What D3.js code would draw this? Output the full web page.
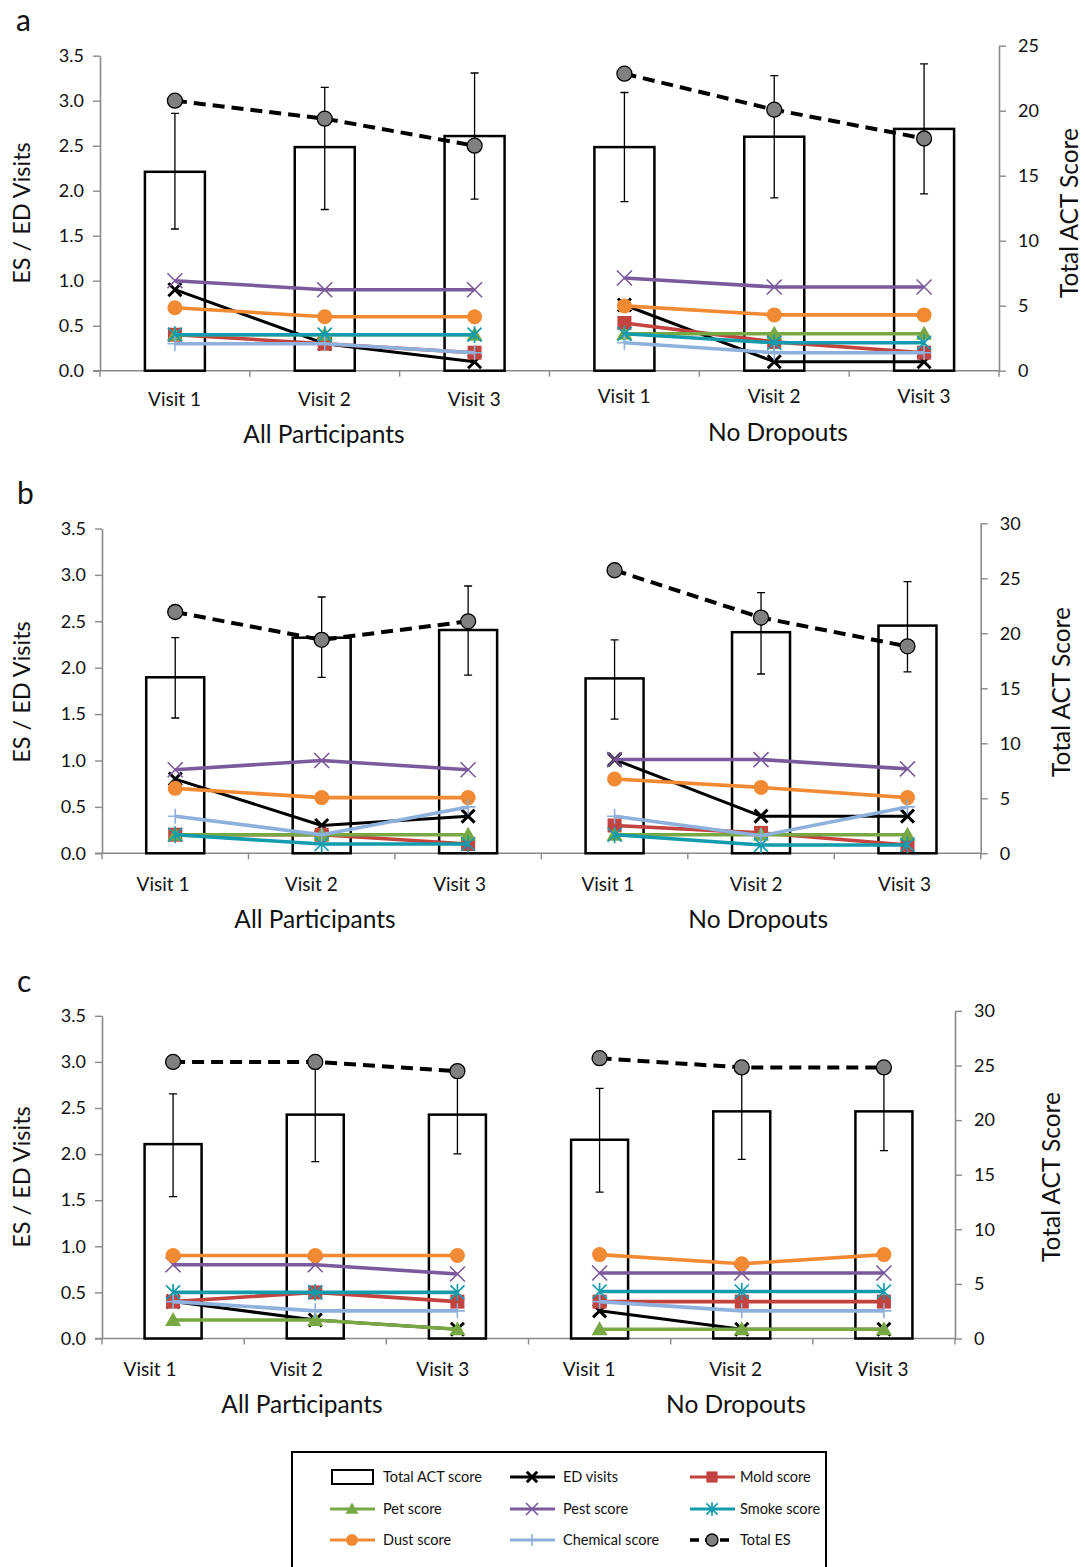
<!DOCTYPE html>
<html><head><meta charset="utf-8">
<script src="https://cdn.jsdelivr.net/npm/d3@7"></script>
<style>
body{margin:0;background:#fff}
svg{display:block;font-family:Lato,'Open Sans',sans-serif}
</style>
</head><body>
<svg id="chart" width="1085" height="1567"></svg>
<script>
// ---------------- DATA ----------------
const panelLetters = ["a", "b", "c"];
const visits = ["Visit 1", "Visit 2", "Visit 3"];
const groups = ["All Participants", "No Dropouts"];
const categories = ["All-1", "All-2", "All-3", "ND-1", "ND-2", "ND-3"];
const leftTicks = [0, 0.5, 1, 1.5, 2, 2.5, 3, 3.5];
const rightTicks = [[0, 5, 10, 15, 20, 25], [0, 5, 10, 15, 20, 25, 30], [0, 5, 10, 15, 20, 25, 30]];

// Total ACT score (bars, right axis) with error bars; rows = panels a,b,c
const actScore = [
  [15.3, 17.2, 18.05, 17.2, 18.0, 18.6],
  [16.0, 19.6, 20.3, 15.9, 20.1, 20.7],
  [17.8, 20.5, 20.5, 18.2, 20.8, 20.8]];
const actHigh = [
  [19.8, 21.8, 22.9, 21.4, 22.7, 23.6],
  [19.6, 23.3, 24.3, 19.4, 23.7, 24.7],
  [22.4, 24.7, 23.9, 22.9, 24.7, 24.7]];
const actLow = [
  [10.9, 12.4, 13.2, 13.0, 13.3, 13.6],
  [12.3, 16.0, 16.2, 12.2, 16.3, 16.5],
  [13.0, 16.2, 16.9, 13.4, 16.4, 17.2]];

// Left axis series (ES / ED visits)
const edVisits = [
  [0.9, 0.3, 0.1, 0.73, 0.1, 0.1],
  [0.8, 0.3, 0.4, 1.01, 0.4, 0.4],
  [0.4, 0.2, 0.1, 0.3, 0.1, 0.1]];
const moldScore = [
  [0.4, 0.3, 0.2, 0.53, 0.32, 0.2],
  [0.2, 0.2, 0.1, 0.3, 0.22, 0.09],
  [0.4, 0.5, 0.4, 0.4, 0.4, 0.4]];
const petScore = [
  [0.4, 0.4, 0.4, 0.41, 0.41, 0.41],
  [0.2, 0.2, 0.2, 0.2, 0.2, 0.2],
  [0.2, 0.2, 0.1, 0.1, 0.1, 0.1]];
const pestScore = [
  [1.0, 0.9, 0.9, 1.03, 0.93, 0.93],
  [0.9, 1.0, 0.9, 1.01, 1.01, 0.91],
  [0.8, 0.8, 0.7, 0.71, 0.71, 0.71]];
const smokeScore = [
  [0.4, 0.4, 0.4, 0.41, 0.31, 0.31],
  [0.2, 0.1, 0.1, 0.2, 0.09, 0.09],
  [0.5, 0.5, 0.5, 0.51, 0.51, 0.51]];
const dustScore = [
  [0.7, 0.6, 0.6, 0.72, 0.62, 0.62],
  [0.7, 0.6, 0.6, 0.8, 0.71, 0.6],
  [0.9, 0.9, 0.9, 0.91, 0.81, 0.91]];
const chemicalScore = [
  [0.3, 0.3, 0.2, 0.31, 0.2, 0.2],
  [0.4, 0.2, 0.5, 0.4, 0.19, 0.5],
  [0.4, 0.3, 0.3, 0.4, 0.3, 0.3]];
const totalES = [
  [3.0, 2.8, 2.5, 3.3, 2.9, 2.58],
  [2.6, 2.3, 2.5, 3.05, 2.54, 2.23],
  [3.0, 3.0, 2.9, 3.04, 2.94, 2.94]];

// ---------------- STYLE / LAYOUT ----------------
const series = [
  {name: "ED visits", data: edVisits, color: "#000000", marker: "xbold", lw: 3},
  {name: "Mold score", data: moldScore, color: "#C3433F", marker: "square", lw: 3.6},
  {name: "Pet score", data: petScore, color: "#78A843", marker: "triangle", lw: 3.6},
  {name: "Pest score", data: pestScore, color: "#7A5A9C", marker: "x", lw: 3.6},
  {name: "Smoke score", data: smokeScore, color: "#129BAD", marker: "asterisk", lw: 3.6},
  {name: "Dust score", data: dustScore, color: "#F28A33", marker: "circle", lw: 3.6},
  {name: "Chemical score", data: chemicalScore, color: "#8DB0DC", marker: "plus", lw: 3.6}
];

const layout = [
  {y0: 370.7, lPx: 90, rPx: 13, xL: 100, xR: 999, barW: 60, labStart: 174.5, labStep: 149.9,
   visBase: [405.7, 403.3], grpBase: [443.3, 441], grpX: [324, 778], titleY: 213, rTitleX: 1070, letterY: 31, letterX: 16},
  {y0: 853.3, lPx: 92.8, rPx: 11, xL: 102, xR: 980.7, barW: 58, labStart: 163, labStep: 148.3,
   visBase: [890.7, 890.7], grpBase: [928.3, 928.3], grpX: [315, 758.3], titleY: 692, rTitleX: 1062, letterY: 504, letterX: 17},
  {y0: 1338.5, lPx: 92.2, rPx: 10.92, xL: 102, xR: 955, barW: 57, labStart: 150, labStep: 146.4,
   visBase: [1375.7, 1375.7], grpBase: [1413.3, 1413.3], grpX: [302, 736], titleY: 1177, rTitleX: 1052, letterY: 992, letterX: 17}
];

const svg = d3.select("#chart");
const axisGray = "#8a8a8a";
const textCol = "#111";

function drawMarker(g, type, x, y, color, s) {
  s = s || 1;
  if (type === "xbold" || type === "x") {
    const h = (type === "xbold" ? 6.5 : 7.5) * s;
    const w = type === "xbold" ? 3 : 1.6;
    g.append("path").attr("d", `M${x-h},${y-h}L${x+h},${y+h}M${x-h},${y+h}L${x+h},${y-h}`)
      .attr("stroke", color).attr("stroke-width", w).attr("fill", "none");
  } else if (type === "square") {
    const h = 7 * s;
    g.append("rect").attr("x", x-h).attr("y", y-h).attr("width", 2*h).attr("height", 2*h).attr("fill", color);
  } else if (type === "triangle") {
    const h = 8 * s;
    g.append("path").attr("d", `M${x},${y-h}L${x+h},${y+h*0.75}L${x-h},${y+h*0.75}Z`).attr("fill", color);
  } else if (type === "asterisk") {
    const h = 7 * s;
    g.append("path").attr("d", `M${x-h},${y-h}L${x+h},${y+h}M${x-h},${y+h}L${x+h},${y-h}M${x},${y-h*1.2}L${x},${y+h*1.2}`)
      .attr("stroke", color).attr("stroke-width", 1.7).attr("fill", "none");
  } else if (type === "circle") {
    g.append("circle").attr("cx", x).attr("cy", y).attr("r", 7.5 * s).attr("fill", color);
  } else if (type === "plus") {
    const h = 7.5 * s;
    g.append("path").attr("d", `M${x-h},${y}L${x+h},${y}M${x},${y-h}L${x},${y+h}`)
      .attr("stroke", color).attr("stroke-width", 1.6).attr("fill", "none");
  } else if (type === "es") {
    g.append("circle").attr("cx", x).attr("cy", y).attr("r", 7.5 * s).attr("fill", "#808080")
      .attr("stroke", "#000").attr("stroke-width", 1.3);
  }
}

layout.forEach((L, p) => {
  const g = svg.append("g");
  const rMax = d3.max(rightTicks[p]);
  const x = d3.scaleBand().domain(categories).range([L.xL, L.xR]).paddingInner(0).paddingOuter(0);
  const xLab = d3.scalePoint().domain(categories).range([L.labStart, L.labStart + 5 * L.labStep]);
  const yL = d3.scaleLinear().domain([0, 3.5]).range([L.y0, L.y0 - 3.5 * L.lPx]);
  const yR = d3.scaleLinear().domain([0, rMax]).range([L.y0, L.y0 - rMax * L.rPx]);
  const cx = c => x(c) + x.bandwidth() / 2;

  // panel letter
  g.append("text").attr("x", L.letterX).attr("y", L.letterY).text(panelLetters[p])
    .attr("font-size", 30).attr("fill", textCol);

  // left axis
  const la = g.append("g").attr("transform", `translate(${L.xL},0)`)
    .call(d3.axisLeft(yL).tickValues(leftTicks).tickFormat(d3.format(".1f")).tickSize(7).tickSizeOuter(0).tickPadding(9));
  // right axis
  const ra = g.append("g").attr("transform", `translate(${L.xR},0)`)
    .call(d3.axisRight(yR).tickValues(rightTicks[p]).tickSize(7).tickSizeOuter(0).tickPadding(12));
  [la, ra].forEach(a => {
    a.select(".domain").attr("stroke", axisGray).attr("stroke-width", 1.6);
    a.selectAll(".tick line").attr("stroke", axisGray).attr("stroke-width", 1.4);
    a.selectAll(".tick text").attr("font-size", 18).attr("fill", textCol).attr("font-family", "Lato, 'Open Sans', sans-serif");
  });

  // x axis
  g.append("line").attr("x1", L.xL - 7).attr("x2", L.xR).attr("y1", L.y0).attr("y2", L.y0)
    .attr("stroke", axisGray).attr("stroke-width", 1.6);
  const bounds = categories.map(c => x(c)).concat([L.xR]);
  g.selectAll(".xt").data(bounds).join("line")
    .attr("x1", d => d).attr("x2", d => d).attr("y1", L.y0).attr("y2", L.y0 + 6)
    .attr("stroke", axisGray).attr("stroke-width", 1.4);

  // visit labels
  g.selectAll(".vl").data(categories).join("text")
    .attr("x", c => xLab(c)).attr("y", (c, i) => L.visBase[i < 3 ? 0 : 1])
    .attr("text-anchor", "middle").attr("font-size", 19).attr("fill", textCol)
    .text((c, i) => visits[i % 3]);
  // group labels
  groups.forEach((gr, k) => {
    g.append("text").attr("x", L.grpX[k]).attr("y", L.grpBase[k]).attr("text-anchor", "middle")
      .attr("font-size", 24.5).attr("fill", textCol).text(gr);
  });

  // axis titles
  g.append("text").attr("transform", `translate(30,${L.titleY}) rotate(-90)`).attr("text-anchor", "middle")
    .attr("font-size", 23.5).attr("fill", textCol).text("ES / ED Visits");
  g.append("text").attr("transform", `translate(${L.rTitleX + 8},${L.titleY}) rotate(-90)`).attr("text-anchor", "middle")
    .attr("font-size", 24.5).attr("fill", textCol).text("Total ACT Score");

  // bars
  g.selectAll(".bar").data(categories).join("rect")
    .attr("x", c => cx(c) - L.barW / 2).attr("width", L.barW)
    .attr("y", (c, i) => yR(actScore[p][i])).attr("height", (c, i) => L.y0 - yR(actScore[p][i]))
    .attr("fill", "#fff").attr("stroke", "#000").attr("stroke-width", 2.5);

  // error bars
  categories.forEach((c, i) => {
    const xc = cx(c), y1 = yR(actHigh[p][i]), y2 = yR(actLow[p][i]);
    g.append("path").attr("d", `M${xc},${y1}L${xc},${y2}M${xc-4},${y1}L${xc+4},${y1}M${xc-4},${y2}L${xc+4},${y2}`)
      .attr("stroke", "#000").attr("stroke-width", 1.3).attr("fill", "none");
  });

  const line = d3.line().x(d => cx(d.c)).y(d => yL(d.v));
  // series lines
  series.forEach(s => {
    [0, 1].forEach(k => {
      const pts = [0, 1, 2].map(j => ({c: categories[k * 3 + j], v: s.data[p][k * 3 + j]}));
      g.append("path").attr("d", line(pts)).attr("fill", "none").attr("stroke", s.color)
        .attr("stroke-width", s.lw).attr("stroke-linejoin", "round");
      pts.forEach(d => drawMarker(g, s.marker, cx(d.c), yL(d.v), s.color));
    });
  });
  // Total ES
  [0, 1].forEach(k => {
    const pts = [0, 1, 2].map(j => ({c: categories[k * 3 + j], v: totalES[p][k * 3 + j]}));
    g.append("path").attr("d", line(pts)).attr("fill", "none").attr("stroke", "#000")
      .attr("stroke-width", 4).attr("stroke-dasharray", "12,7");
    pts.forEach(d => drawMarker(g, "es", cx(d.c), yL(d.v)));
  });
});

// ---------------- LEGEND ----------------
const lg = svg.append("g");
lg.append("rect").attr("x", 292).attr("y", 1452).attr("width", 534).attr("height", 140)
  .attr("fill", "#fff").attr("stroke", "#000").attr("stroke-width", 2);
const legendItems = [{name: "Total ACT score", type: "bar"}]
  .concat(series.map(s => ({name: s.name, type: s.marker, color: s.color})))
  .concat([{name: "Total ES", type: "es"}]);
const colX = [330, 510, 690], textX = [383, 563, 740], rowY = [1477, 1509, 1540];
legendItems.forEach((it, i) => {
  const col = i % 3, row = Math.floor(i / 3);
  const x0 = colX[col], y = rowY[row], xm = x0 + 22;
  if (it.type === "bar") {
    lg.append("rect").attr("x", x0 + 2).attr("y", y - 7).attr("width", 41).attr("height", 14)
      .attr("fill", "#fff").attr("stroke", "#000").attr("stroke-width", 2);
  } else if (it.type === "es") {
    lg.append("path").attr("d", `M${x0},${y}L${x0+45},${y}`).attr("stroke", "#000")
      .attr("stroke-width", 3.6).attr("stroke-dasharray", "9,6");
    drawMarker(lg, "es", xm, y, null, 0.8);
  } else {
    lg.append("path").attr("d", `M${x0},${y}L${x0+45},${y}`).attr("stroke", it.color)
      .attr("stroke-width", it.type === "xbold" ? 2.8 : 3.2);
    drawMarker(lg, it.type, xm, y, it.color, 0.8);
  }
  lg.append("text").attr("x", textX[col]).attr("y", y + 5).attr("font-size", 14.5).attr("fill", textCol).text(it.name);
});
</script>
</body></html>
